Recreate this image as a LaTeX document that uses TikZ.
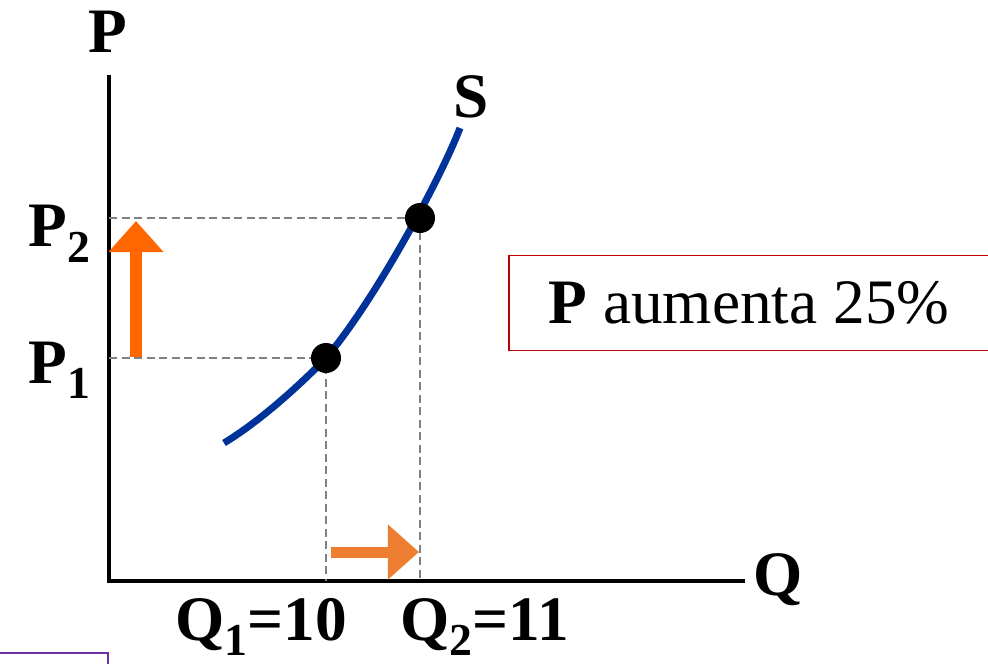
\documentclass[tikz,border=0pt]{standalone}
\usepackage{fontspec}
\setmainfont{Liberation Serif}
\usetikzlibrary{arrows.meta, positioning, calc}
\definecolor{supplyblue}{HTML}{003399}
\definecolor{priceorange}{HTML}{FF6600}
\definecolor{qtyorange}{HTML}{ED7D31}
\definecolor{notered}{HTML}{C00000}
\definecolor{framepurple}{HTML}{7030A0}
\newcommand{\lowsub}[1]{\raisebox{-0.24em}{\fontsize{13}{13}\selectfont #1}}
\tikzset{
    supplygraph/.style={x=0.01cm, y=-0.01cm, font=\fontsize{18}{21}\selectfont\bfseries},
    axisline/.style={line width=0.035cm},
    guide/.style={draw=gray, line width=0.017cm, dash pattern=on 0.08cm off 0.045cm},
    supply/.style={draw=supplyblue, line width=0.07cm},
    point/.style={fill, circle, inner sep=0pt, minimum size=0.3cm},
    lbl/.style={inner sep=0pt, anchor=base west},
    % block arrows showing the change of price and quantity
    bigarrow/.style={line width=0.11cm, -{Triangle[width=0.53cm, length=0.31cm]}},
    note/.style={draw=notered, line width=0.017cm, anchor=west, minimum width=4.8cm,
        minimum height=0.95cm, inner sep=0pt, font=\fontsize{18}{21}\selectfont},
}
\begin{document}
\begin{tikzpicture}[supplygraph]
    \useasboundingbox (0,0) rectangle (988,664);

    % axes
    \coordinate (ytop) at (109,75);
    \coordinate (O)    at (109,581);
    \coordinate (xend) at (745,581);
    \draw[axisline] (ytop) |- (xend);

    \node[lbl] (P) at (88,53)   {P};
    \node[lbl] (Q) at (753,595) {Q};

    % equilibrium points
    \coordinate (E1) at (326,358);
    \coordinate (E2) at (420,218);

    \draw[guide] (E1 -| O) -- (E1) -- (E1 |- O);
    \draw[guide] (E2 -| O) -- (E2) -- (E2 |- O);

    \draw[supply] (224,443) .. controls (275,412) and (E1) .. (E1)
        .. controls (375,300) and (440,180) .. (460,128);
    \node[lbl] (S) at (453,118) {S};

    \node[point] (e1) at (E1) {};
    \node[point] (e2) at (E2) {};

    \node[lbl] (p2) at (28,247)  {P\lowsub{2}};
    \node[lbl] (p1) at (28,383)  {P\lowsub{1}};
    \node[lbl] (q1) at (175,640) {Q\lowsub{1}=10};
    \node[lbl] (q2) at (400,640) {Q\lowsub{2}=11};

    % changes
    \coordinate (up0) at (136,357);
    \coordinate (up1) at (136,221);
    \draw[bigarrow, priceorange] (up0) -- (up1);
    \coordinate (rt0) at (331,552);
    \coordinate (rt1) at (419,552);
    \draw[bigarrow, qtyorange] (rt0) -- (rt1);

    \node[note] (info) at (508,303) {\textbf{P} aumenta 25\%};

    \draw[framepurple, line width=0.017cm] (-10,700) |- (108,653) -- (108,700);
\end{tikzpicture}
\end{document}
